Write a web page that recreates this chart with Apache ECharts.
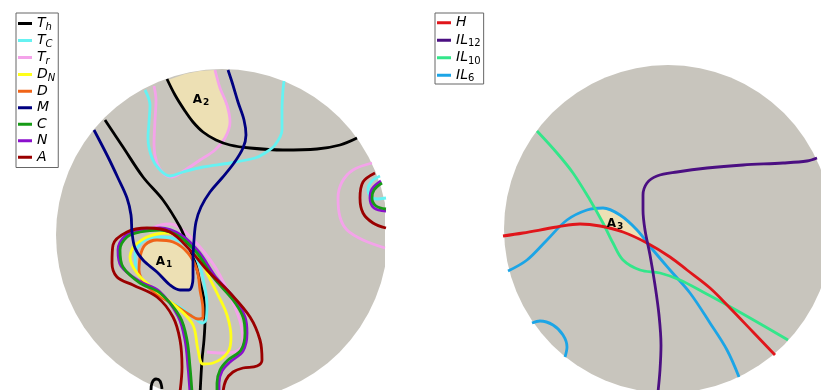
<!DOCTYPE html>
<html>
<head>
<meta charset="utf-8">
<script src="https://cdn.jsdelivr.net/npm/echarts@6/dist/echarts.min.js"></script>
<style>
  html, body { margin: 0; padding: 0; background: #fff; }
  #chart { width: 821px; height: 390px; }
</style>
</head>
<body>
<div id="chart"></div>
<script>
// Field coordinates: offsets from each disk centre, y pointing up.
const R_LEFT = 166;
const R_RIGHT = 164;

// ---- Left field: contour paths ----
const TH_1 = [[-55,156],[-47,140],[-37,124],[-29,113],[-19,103],[-6,95],[8,90],[28,87],[61,85],[95,86],[118,90],[135,97]];
const TH_2 = [[-117,115],[-99,88],[-79,58],[-59,35],[-42,8],[-35,-8],[-27,-27],[-22,-47],[-18,-65],[-17,-85],[-18,-105],[-20,-125],[-22,-160]];
const TH_3 = [[-71,-156],[-70,-148],[-66,-144],[-62,-146],[-60,-154]];
const TC_1 = [[-77,145],[-72,130],[-73,113],[-74,97],[-70,77],[-62,65],[-52,59],[-39,63],[-19,68],[8,72],[33,77],[43,82],[53,90],[60,105],[60,125],[61,145],[62,154]];
const TC_2 = [[-62,-2],[-47,-4],[-32,-14],[-23,-29],[-18,-48],[-15,-70],[-16,-85],[-20,-88],[-26,-84],[-44,-71],[-62,-61],[-76,-50],[-85,-35],[-87,-20],[-82,-9],[-72,-3],[-62,-2]];
const TC_3 = [[158,59],[150,54],[146,46],[148,39],[155,36],[164,37]];
const TR_1 = [[-68,149],[-66,135],[-67,115],[-68,90],[-65,72],[-58,61],[-50,58],[-37,65],[-22,75],[-7,85],[3,97],[8,113],[5,130],[-2,147],[-6,161],[-7,165]];
const TR_2 = [[-72,6],[-62,10],[-52,11],[-39,5],[-22,-12],[-5,-35],[11,-68],[19,-90],[21,-108],[15,-116],[0,-118],[-15,-117]];
const TR_3 = [[150,72],[131,65],[120,53],[116,37],[118,18],[125,5],[141,-5],[163,-13]];
const DN_1 = [[-89,-12],[-75,-2],[-55,2],[-39,-3],[-25,-18],[-15,-38],[-5,-58],[5,-80],[9,-102],[6,-117],[-9,-128],[-19,-129],[-24,-115],[-29,-90],[-44,-73],[-67,-55],[-85,-38],[-92,-22],[-89,-12]];
const D_1 = [[-82,-22],[-77,-10],[-65,-5],[-49,-7],[-34,-18],[-25,-35],[-22,-55],[-19,-75],[-19,-82],[-24,-84],[-32,-80],[-49,-69],[-64,-60],[-77,-49],[-83,-35],[-82,-22]];
const M_1 = [[6,165],[10,153],[16,133],[22,115],[24,100],[21,87],[12,72],[0,57],[-12,43],[-21,28],[-26,13],[-28,-5],[-29,-25],[-29,-43],[-33,-55],[-42,-55],[-52,-50],[-65,-37],[-79,-25],[-87,-13],[-90,3],[-91,20],[-95,37],[-104,57],[-114,78],[-128,105]];
const C_1 = [[-30,-157],[-32,-132],[-35,-105],[-42,-82],[-62,-58],[-82,-48],[-99,-32],[-102,-15],[-95,-2],[-82,3],[-62,5],[-42,-2],[-25,-18],[-9,-42],[11,-65],[21,-82],[23,-98],[19,-115],[6,-125],[-2,-135],[-5,-148],[-5,-157]];
const C_2 = [[160,52],[152,45],[150,37],[154,29],[164,26]];
const N_1 = [[-32,-157],[-34,-132],[-37,-105],[-44,-81],[-63,-56],[-83,-46],[-101,-31],[-104,-15],[-96,0],[-82,5],[-62,7],[-41,0],[-23,-17],[-7,-41],[13,-64],[23,-82],[25,-98],[21,-116],[8,-127],[0,-136],[-3,-148],[-3,-157]];
const N_2 = [[159,54],[150,46],[148,37],[152,27],[164,24]];
const A_1 = [[-42,-157],[-40,-132],[-42,-105],[-49,-82],[-65,-62],[-89,-50],[-105,-42],[-110,-28],[-109,-10],[-95,3],[-75,7],[-52,3],[-32,-15],[-15,-35],[8,-58],[28,-82],[38,-105],[40,-125],[35,-131],[21,-133],[11,-137],[4,-145],[1,-157]];
const A_2 = [[153,62],[141,53],[138,37],[141,22],[151,12],[164,7]];

// ---- Right field: contour paths ----
const H_1 = [[-165,-7],[-145,-4],[-111,2],[-88,5],[-68,3],[-45,-3],[-21,-14],[2,-28],[19,-41],[42,-59],[62,-79],[85,-103],[107,-126]];
const IL12_1 = [[149,71],[139,68],[115,66],[75,64],[39,61],[9,57],[-11,53],[-21,46],[-25,34],[-25,19],[-23,-1],[-18,-26],[-13,-56],[-9,-86],[-7,-116],[-8,-141],[-10,-163]];
const IL10_1 = [[-131,98],[-111,76],[-95,56],[-78,29],[-65,6],[-55,-14],[-45,-31],[-28,-41],[-8,-44],[12,-51],[35,-63],[59,-76],[89,-93],[120,-111]];
const IL6_1 = [[-160,-42],[-141,-31],[-121,-11],[-101,9],[-81,19],[-65,21],[-48,14],[-31,-1],[-15,-21],[2,-41],[22,-64],[42,-94],[59,-121],[71,-148]];
const IL6_2 = [[-136,-94],[-128,-92],[-115,-96],[-105,-106],[-101,-118],[-103,-128]];

// ---- Overlap regions ----
const REGION_A1 = [[-82,-22],[-77,-11],[-65,-5],[-49,-7],[-36,-16],[-29,-27],[-29,-43],[-33,-55],[-42,-55],[-52,-50],[-65,-37],[-77,-27]];
const REGION_A2 = [[-54,155],[-42,133],[-29,113],[-15,100],[1,93],[7,105],[8,120],[0,140],[-5,160],[-7,165],[-22,164],[-37,161]];
const REGION_A3 = [[-73,20],[-65,21],[-48,14],[-31,-1],[-21,-13],[-45,-3],[-63,2],[-68,10]];

// Region labels: [x, y, subscript]
const LABELS_LEFT = [[-58,-27,'1'],[-21,135,'2']];
const LABELS_RIGHT = [[-53,5,'3']];

const LEGEND_LEFT = ['Th','TC','Tr','DN','D','M','C','N','A'];
const LEGEND_RIGHT = ['H','IL12','IL10','IL6'];
const LEGEND_TEXT = {
  Th: '{m|T}{s|h}', TC: '{m|T}{s|C}', Tr: '{m|T}{s|r}', DN: '{m|D}{s|N}',
  D: '{m|D}', M: '{m|M}', C: '{m|C}', N: '{m|N}', A: '{m|A}',
  H: '{m|H}', IL12: '{m|IL}{n|12}', IL10: '{m|IL}{n|10}', IL6: '{m|IL}{n|6}'
};
const COLORS = {
  Th: '#000000', TC: '#66f2f2', Tr: '#f4a3ea', DN: '#ffff1a', D: '#f06418',
  M: '#000080', C: '#169b16', N: '#8b10cc', A: '#9a0000',
  H: '#e0161b', IL12: '#4b0f82', IL10: '#33e68a', IL6: '#1ca5e6'
};
const DISK = '#c8c5bd';
const TAN = '#ede0b4';

function contour(name, data, grid) {
  return {
    type: 'line', name: name, data: data, xAxisIndex: grid, yAxisIndex: grid,
    smooth: 0.35, showSymbol: false, symbol: 'none', silent: true, clip: true,
    color: COLORS[name],
    lineStyle: { color: COLORS[name], width: 2.8 },
    itemStyle: { color: COLORS[name] }
  };
}

function disk(grid, r) {
  return {
    type: 'custom', xAxisIndex: grid, yAxisIndex: grid, clip: true, silent: true, z: 1,
    data: [[0, 0]],
    renderItem: function (p, api) {
      const c = api.coord([api.value(0), api.value(1)]);
      const s = api.size([r, r]);
      return { type: 'circle', shape: { cx: c[0], cy: c[1], r: s[0] }, style: { fill: DISK } };
    }
  };
}

function regions(grid, polys) {
  return {
    type: 'custom', xAxisIndex: grid, yAxisIndex: grid, clip: true, silent: true, z: 1,
    data: polys.map(function (_, i) { return [i]; }),
    renderItem: function (p, api) {
      const pts = polys[p.dataIndex].map(function (q) { return api.coord(q); });
      return { type: 'polygon', shape: { points: pts }, style: { fill: TAN } };
    }
  };
}

function labels(grid, list) {
  return {
    type: 'custom', xAxisIndex: grid, yAxisIndex: grid, silent: true, z: 5,
    data: list,
    renderItem: function (p, api) {
      const c = api.coord([api.value(0), api.value(1)]);
      return {
        type: 'text', x: c[0], y: c[1],
        style: {
          text: '{a|A}{b|' + list[p.dataIndex][2] + '}',
          align: 'center', verticalAlign: 'middle',
          rich: {
            a: { fontSize: 12, fontWeight: 'bold', fontFamily: 'DejaVu Sans', fill: '#000' },
            b: { fontSize: 9, fontWeight: 'bold', fontFamily: 'DejaVu Sans', fill: '#000', padding: [6, 0, 0, 1] }
          }
        }
      };
    }
  };
}

function legend(data, left, top, lineH, pad) {
  return {
    data: data, orient: 'vertical', left: left, top: top,
    padding: pad, itemGap: 0, itemWidth: 14, itemHeight: 3, icon: 'rect',
    borderColor: '#666', borderWidth: 1, backgroundColor: '#fff', selectedMode: false,
    formatter: function (n) { return LEGEND_TEXT[n]; },
    textStyle: {
      color: '#000', fontFamily: 'DejaVu Sans', fontSize: 14, lineHeight: lineH,
      rich: {
        m: { fontSize: 14, fontStyle: 'italic', fontFamily: 'DejaVu Sans', lineHeight: lineH },
        s: { fontSize: 10, fontStyle: 'italic', fontFamily: 'DejaVu Sans', lineHeight: lineH, padding: [7, 0, 0, 0] },
        n: { fontSize: 10, fontFamily: 'DejaVu Sans', lineHeight: lineH, padding: [7, 0, 0, 0] }
      }
    }
  };
}

const hidden = { show: false };
const chart = echarts.init(document.getElementById('chart'), null, { renderer: 'canvas' });
chart.setOption({
  animation: false,
  backgroundColor: '#fff',
  grid: [
    { left: 51, top: 65, width: 334, height: 340, outerBoundsMode: 'none', containLabel: false },
    { left: 498, top: 59, width: 340, height: 340, outerBoundsMode: 'none', containLabel: false }
  ],
  xAxis: [
    { type: 'value', gridIndex: 0, min: -171, max: 163, show: false, splitLine: hidden },
    { type: 'value', gridIndex: 1, min: -170, max: 170, show: false, splitLine: hidden }
  ],
  yAxis: [
    { type: 'value', gridIndex: 0, min: -170, max: 170, show: false, splitLine: hidden },
    { type: 'value', gridIndex: 1, min: -170, max: 170, show: false, splitLine: hidden }
  ],
  legend: [
    legend(LEGEND_LEFT, 16, 13, 16.5, [2, 3, 2, 2]),
    legend(LEGEND_RIGHT, 435, 13, 17.5, [1, 3, 0, 2])
  ],
  series: [
    disk(0, R_LEFT),
    regions(0, [REGION_A1, REGION_A2]),
    contour('Tr', TR_1, 0), contour('Tr', TR_2, 0), contour('Tr', TR_3, 0),
    contour('Th', TH_1, 0), contour('Th', TH_2, 0), contour('Th', TH_3, 0),
    contour('TC', TC_1, 0), contour('TC', TC_2, 0), contour('TC', TC_3, 0),
    contour('D', D_1, 0),
    contour('DN', DN_1, 0),
    contour('N', N_1, 0), contour('N', N_2, 0),
    contour('C', C_1, 0), contour('C', C_2, 0),
    contour('A', A_1, 0), contour('A', A_2, 0),
    contour('M', M_1, 0),
    labels(0, LABELS_LEFT),

    disk(1, R_RIGHT),
    regions(1, [REGION_A3]),
    contour('IL6', IL6_1, 1), contour('IL6', IL6_2, 1),
    contour('IL10', IL10_1, 1),
    contour('H', H_1, 1),
    contour('IL12', IL12_1, 1),
    labels(1, LABELS_RIGHT)
  ]
});
</script>
</body>
</html>
